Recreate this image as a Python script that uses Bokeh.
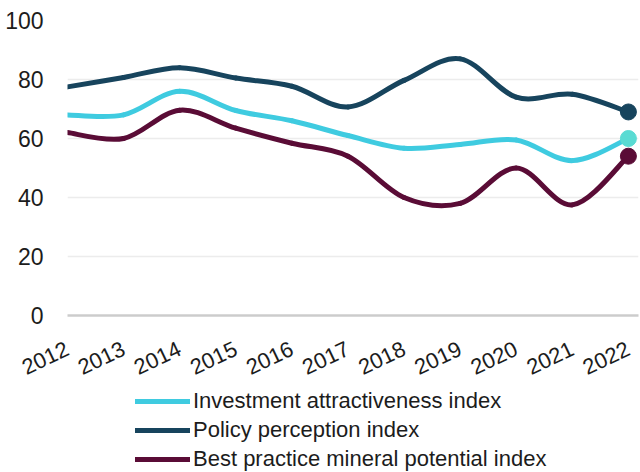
import numpy as np
from bokeh.plotting import figure
from bokeh.layouts import column
from bokeh.models import Legend, LegendItem, FixedTicker, Range1d, ColumnDataSource
from bokeh.embed import file_html
from bokeh.resources import INLINE

years = [2012, 2013, 2014, 2015, 2016, 2017, 2018, 2019, 2020, 2021, 2022]
investment = [68, 68, 76, 69.5, 66, 61, 56.7, 58, 59.5, 52.5, 60]
policy = [77.5, 80.7, 84, 80.5, 77.7, 70.7, 79.7, 87, 74, 75, 69]
best_practice = [62, 60, 69.6, 63.5, 58.4, 54, 40, 38, 50, 37.5, 54]
series_names = ["Investment attractiveness index", "Policy perception index",
                "Best practice mineral potential index"]
y_ticks = [0, 20, 40, 60, 80, 100]

colors = ["#3fcbe0", "#17445d", "#5a0c36"]
dot_colors = ["#5adbd3", "#17445d", "#5a0c36"]

p = figure(width=640, height=384, x_range=Range1d(2012, 2022.18), y_range=Range1d(0, 100),
           min_border_left=67, min_border_right=2, min_border_top=20, min_border_bottom=68,
           output_backend="svg", toolbar_location=None)
p.outline_line_color = None
p.background_fill_color = "white"

p.xgrid.visible = False
p.ygrid.ticker = FixedTicker(ticks=y_ticks)
p.ygrid.grid_line_color = "#ececec"
p.ygrid.grid_line_width = 1.5

p.yaxis.ticker = FixedTicker(ticks=y_ticks)
p.yaxis.axis_line_color = None
p.yaxis.major_tick_line_color = None
p.yaxis.minor_tick_line_color = None
p.yaxis.major_label_standoff = 18
p.yaxis.major_label_text_font = "Liberation Sans"
p.yaxis.major_label_text_font_size = "23px"
p.yaxis.major_label_text_color = "#1c1c1c"

p.xaxis.ticker = FixedTicker(ticks=years)
p.xaxis.axis_line_color = "#cccccc"
p.xaxis.axis_line_width = 2.5
p.xaxis.major_tick_line_color = None
p.xaxis.minor_tick_line_color = None
p.xaxis.major_label_orientation = 0.44
p.xaxis.major_label_standoff = 26
p.xaxis.major_label_text_font = "Liberation Sans"
p.xaxis.major_label_text_font_size = "22px"
p.xaxis.major_label_text_color = "#1c1c1c"


def smooth_segments(xs, ys):
    xs = np.asarray(xs, float)
    ys = np.asarray(ys, float)
    n = len(xs)
    xp = np.concatenate([[xs[0]], xs, [xs[-1]]])
    yp = np.concatenate([[ys[0]], ys, [ys[-1]]])
    d = dict(x0=[], y0=[], x1=[], y1=[], cx0=[], cy0=[], cx1=[], cy1=[])
    for i in range(n - 1):
        a, b, c, e = i, i + 1, i + 2, i + 3
        d["x0"].append(xp[b]); d["y0"].append(yp[b])
        d["x1"].append(xp[c]); d["y1"].append(yp[c])
        d["cx0"].append(xp[b] + (xp[c] - xp[a]) / 6); d["cy0"].append(yp[b] + (yp[c] - yp[a]) / 6)
        d["cx1"].append(xp[c] - (xp[e] - xp[b]) / 6); d["cy1"].append(yp[c] - (yp[e] - yp[b]) / 6)
    return ColumnDataSource(d)


lg = figure(width=640, height=88, x_range=Range1d(0, 1), y_range=Range1d(0, 1),
            min_border_left=0, min_border_right=0, min_border_top=0, min_border_bottom=0,
            output_backend="svg", toolbar_location=None)
lg.axis.visible = False
lg.grid.visible = False
lg.outline_line_color = None

items = []
for vals, col, dcol, name in zip([investment, policy, best_practice], colors, dot_colors, series_names):
    src = smooth_segments(years, vals)
    p.bezier(x0="x0", y0="y0", x1="x1", y1="y1", cx0="cx0", cy0="cy0", cx1="cx1", cy1="cy1",
             source=src, line_color=col, line_width=5, line_cap="round")
    p.scatter(x=[years[-1]], y=[vals[-1]], size=16, fill_color=dcol, line_color=dcol)
    r = lg.line(x=[np.nan], y=[np.nan], line_color=col, line_width=5, line_cap="round")
    items.append(LegendItem(label=name, renderers=[r]))

legend = Legend(items=items, location=(68, 0), orientation="vertical",
                glyph_width=55, glyph_height=22, label_height=22, spacing=3,
                label_standoff=3, padding=0, margin=0, border_line_color=None,
                background_fill_alpha=0,
                label_text_font="Liberation Sans", label_text_font_size="22px",
                label_text_color="#1c1c1c")
lg.add_layout(legend, "center")

layout = column(p, lg, spacing=0)
open("out.html", "w").write(file_html(layout, INLINE))
